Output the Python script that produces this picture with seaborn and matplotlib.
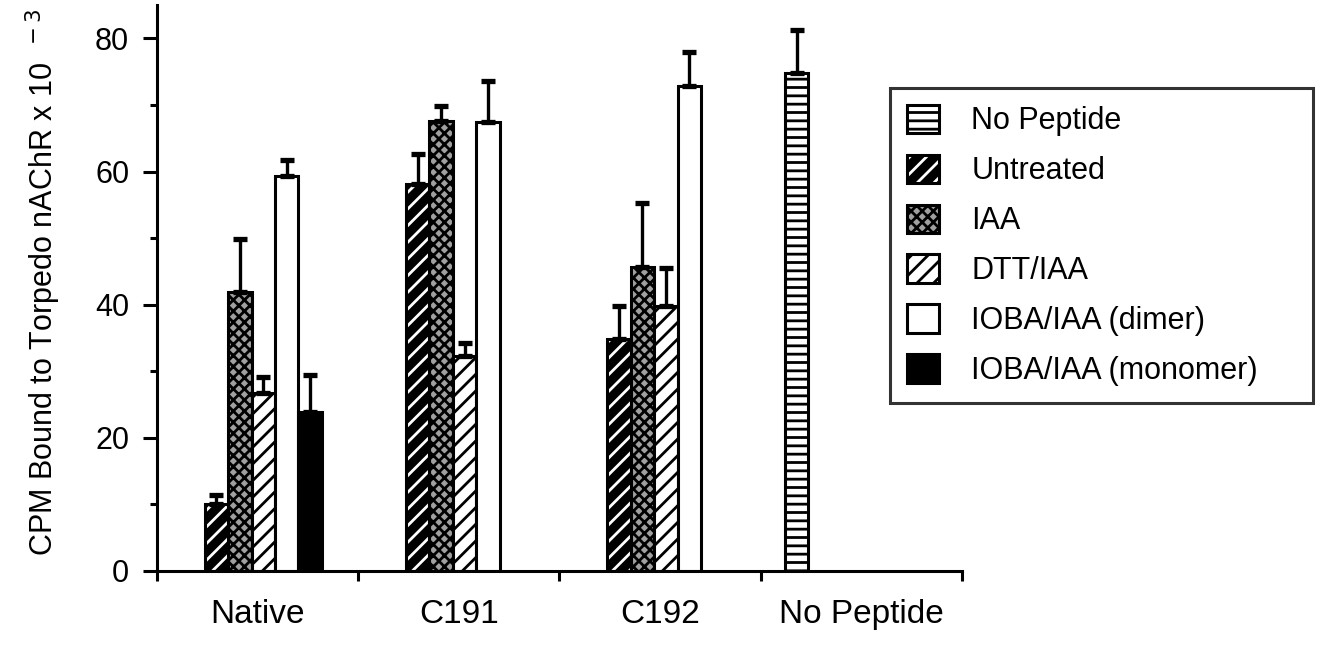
import matplotlib
matplotlib.use("Agg")
import matplotlib.pyplot as plt
from matplotlib.patches import Patch, Rectangle
from matplotlib.legend_handler import HandlerTuple
import seaborn as sns
import pandas as pd
import numpy as np

# ---------------- data ----------------
groups = ["Native", "C191", "C192", "No Peptide"]
treatments = ["No Peptide", "Untreated", "IAA", "DTT/IAA",
              "IOBA/IAA (dimer)", "IOBA/IAA (monomer)"]

native_vals = [10.0, 41.9, 26.7, 59.4, 23.9]
native_errs = [1.4, 8.0, 2.4, 2.4, 5.6]
c191_vals = [58.1, 67.6, 32.3, 67.4]
c191_errs = [4.6, 2.2, 1.9, 6.2]
c192_vals = [34.8, 45.6, 39.8, 72.8]
c192_errs = [5.0, 9.7, 5.7, 5.1]
nopep_vals = [74.8]
nopep_errs = [6.4]

group_treatments = {
    "Native": ["Untreated", "IAA", "DTT/IAA", "IOBA/IAA (dimer)", "IOBA/IAA (monomer)"],
    "C191": ["Untreated", "IAA", "DTT/IAA", "IOBA/IAA (dimer)"],
    "C192": ["Untreated", "IAA", "DTT/IAA", "IOBA/IAA (dimer)"],
    "No Peptide": ["No Peptide"],
}
group_vals = {"Native": native_vals, "C191": c191_vals, "C192": c192_vals, "No Peptide": nopep_vals}
group_errs = {"Native": native_errs, "C191": c191_errs, "C192": c192_errs, "No Peptide": nopep_errs}

rows = []
for g in groups:
    for t, v, e in zip(group_treatments[g], group_vals[g], group_errs[g]):
        rows.append(dict(group=g, treatment=t, value=v, err=e))
df = pd.DataFrame(rows)
err_lookup = {(r.group, r.treatment): r.err for r in df.itertuples()}

# ---------------- styles ----------------
sns.set_theme(style="white")
plt.rcParams["font.family"] = ["Liberation Sans", "DejaVu Sans"]
plt.rcParams["hatch.linewidth"] = 2.0
plt.rcParams["axes.linewidth"] = 2.2
plt.rcParams["text.color"] = "black"
plt.rcParams["xtick.color"] = "black"
plt.rcParams["ytick.color"] = "black"
plt.rcParams["axes.labelcolor"] = "black"

styles = {
    "No Peptide": dict(facecolor="white", edgecolor="black", hatch="--"),
    "Untreated": dict(facecolor="black", edgecolor="white", hatch="//"),
    "IAA": dict(facecolor="#a0a0a0", edgecolor="black", hatch="xxx"),
    "DTT/IAA": dict(facecolor="white", edgecolor="black", hatch="//"),
    "IOBA/IAA (dimer)": dict(facecolor="white", edgecolor="black", hatch=None),
    "IOBA/IAA (monomer)": dict(facecolor="black", edgecolor="black", hatch=None),
}
palette = {t: styles[t]["facecolor"] for t in treatments}

fig = plt.figure(figsize=(13.29, 6.46), dpi=100)
ax = fig.add_axes([0.1181, 0.1161, 0.6057, 0.876])

sns.barplot(data=df, x="group", y="value", hue="treatment", order=groups,
            hue_order=treatments, palette=palette, width=0.7, dodge=True,
            errorbar=None, legend=False, saturation=1, linewidth=2,
            edgecolor="black", ax=ax)

OUTLINE_LW = 2.2
levels_present = [t for t in treatments if t in set(df["treatment"])]
for cont, t in zip(ax.containers, levels_present):
    st = styles[t]
    xs, ys, es = [], [], []
    for p in cont.patches:
        h = p.get_height()
        if not np.isfinite(h):
            continue
        p.set_facecolor(st["facecolor"])
        p.set_edgecolor(st["edgecolor"])
        if st["hatch"]:
            p.set_hatch(st["hatch"])
        p.set_linewidth(OUTLINE_LW)
        if t == "Untreated":
            p.set_linewidth(0)
            ax.add_patch(Rectangle((p.get_x(), p.get_y()), p.get_width(), h,
                                   fill=False, edgecolor="black",
                                   linewidth=OUTLINE_LW, zorder=p.get_zorder() + 0.1))
        xc = p.get_x() + p.get_width() / 2
        g = groups[int(round(xc))]
        xs.append(xc)
        ys.append(h)
        es.append(err_lookup[(g, t)])
    if xs:
        ax.errorbar(xs, ys, yerr=[np.zeros(len(es)), es], fmt="none",
                    ecolor="black", elinewidth=2.4, capsize=5, capthick=3.8,
                    zorder=1)

# ---------------- axes ----------------
shift = 0.03
ax.set_xlim(-0.5 + shift, len(groups) - 0.5 + shift)
ax.set_ylim(0, 85)
ax.set_xticks(np.arange(len(groups)) + shift)
ax.set_xticklabels(groups, fontsize=24)
ax.set_xticks(np.arange(len(groups) + 1) - 0.5 + shift, minor=True)
ax.tick_params(axis="x", which="major", length=0, pad=20)
ax.tick_params(axis="x", which="minor", length=7, width=2.2, direction="out",
               bottom=True, color="black")
ax.set_yticks([0, 20, 40, 60, 80])
ax.set_yticks([10, 30, 50, 70], minor=True)
ax.tick_params(axis="y", which="major", length=10, width=2.2, direction="out",
               left=True, labelsize=22, pad=10, color="black")
ax.tick_params(axis="y", which="minor", length=5, width=2.2, direction="out",
               left=True, color="black")
ax.set_xlabel("")
ax.set_ylabel(r"CPM Bound to Torpedo nAChR x 10$^{\ \ -3}$", fontsize=22)
ax.yaxis.set_label_coords(-0.117, 0.51)
for s in ["top", "right"]:
    ax.spines[s].set_visible(False)
for s in ["left", "bottom"]:
    ax.spines[s].set_color("black")
    ax.spines[s].set_linewidth(2.2)
ax.grid(False)

# ---------------- legend ----------------
handles = []
for t in treatments:
    st = styles[t]
    if t == "Untreated":
        h = (Patch(facecolor=st["facecolor"], edgecolor=st["edgecolor"],
                   hatch=st["hatch"], linewidth=0),
             Patch(fill=False, edgecolor="black", linewidth=OUTLINE_LW))
    else:
        h = Patch(facecolor=st["facecolor"], edgecolor=st["edgecolor"],
                  hatch=st["hatch"], linewidth=OUTLINE_LW)
    handles.append(h)

leg = fig.legend(handles, treatments, loc="upper left",
                 bbox_to_anchor=(0.670, 0.864, 0.318, 0.0), mode="expand",
                 fontsize=22, frameon=True, fancybox=False, shadow=False,
                 handlelength=1.05, handleheight=1.05, handletextpad=1.05,
                 labelspacing=0.6, borderpad=0.55, borderaxespad=0,
                 handler_map={tuple: HandlerTuple(ndivide=1)})
leg.get_frame().set_edgecolor("black")
leg.get_frame().set_linewidth(2.2)

fig.savefig("out.png", dpi=100, facecolor="white")
